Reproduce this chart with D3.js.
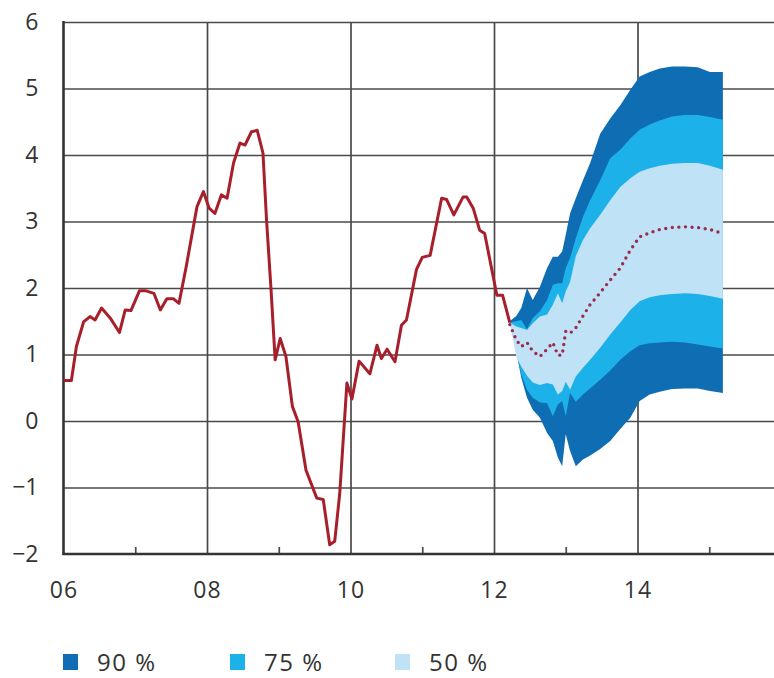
<!DOCTYPE html>
<html><head><meta charset="utf-8">
<script src="https://cdn.jsdelivr.net/npm/d3@7"></script>
<style>
html,body{margin:0;padding:0;background:#fff;}
svg text{font-family:"Open Sans",sans-serif;fill:#333;}
</style></head>
<body>
<svg id="chart" width="774" height="678"></svg>
<script>
// ---- data ----
const histDates = [2006.00,2006.11,2006.18,2006.28,2006.37,2006.44,2006.53,2006.65,2006.78,2006.86,2006.94,
  2007.06,2007.14,2007.26,2007.35,2007.44,2007.53,2007.61,2007.71,2007.86,2007.95,
  2008.03,2008.11,2008.20,2008.28,2008.37,2008.46,2008.53,2008.62,2008.70,2008.78,2008.83,2008.89,2008.95,
  2009.02,2009.10,2009.19,2009.27,2009.38,2009.53,2009.62,2009.71,2009.78,2009.85,2009.95,
  2010.02,2010.12,2010.27,2010.37,2010.43,2010.51,2010.62,2010.71,2010.78,2010.92,
  2011.00,2011.11,2011.27,2011.34,2011.44,2011.57,2011.62,2011.71,2011.80,2011.87,
  2012.04,2012.12,2012.22];
const histValues = [0.61,0.61,1.12,1.49,1.57,1.52,1.70,1.55,1.33,1.67,1.66,
  1.96,1.96,1.92,1.67,1.84,1.84,1.77,2.32,3.22,3.45,
  3.20,3.12,3.40,3.35,3.88,4.18,4.15,4.35,4.37,4.03,3.02,2.02,0.92,
  1.24,0.97,0.22,-0.01,-0.74,-1.16,-1.18,-1.86,-1.81,-1.09,0.57,
  0.33,0.90,0.71,1.14,0.94,1.08,0.89,1.44,1.52,2.28,
  2.46,2.49,3.35,3.33,3.10,3.37,3.37,3.20,2.87,2.82,
  1.89,1.89,1.48];

const fanDates = [2012.22,2012.31,2012.38,2012.46,2012.54,2012.64,2012.74,2012.82,2012.89,2012.95,2013.00,
  2013.06,2013.14,2013.24,2013.34,2013.48,2013.62,2013.76,2013.90,2014.03,2014.17,2014.31,2014.48,
  2014.66,2014.84,2015.01,2015.19];
const upper90 = [1.50,1.58,1.70,2.00,1.82,2.02,2.30,2.47,2.47,2.55,2.80,3.12,3.35,3.62,3.88,4.32,4.55,4.75,4.98,5.18,5.25,5.30,5.33,5.33,5.32,5.25,5.25];
const upper75 = [1.48,1.50,1.52,1.38,1.55,1.65,1.82,2.05,2.07,2.07,2.30,2.45,2.75,3.07,3.32,3.62,3.95,4.08,4.25,4.38,4.46,4.52,4.58,4.60,4.60,4.57,4.53];
const upper50 = [1.48,1.42,1.40,1.37,1.47,1.57,1.60,1.75,1.92,1.77,1.95,2.09,2.48,2.72,2.90,3.10,3.32,3.52,3.65,3.75,3.80,3.84,3.87,3.88,3.88,3.84,3.78];
const median  = [1.45,1.22,1.12,1.18,1.05,0.97,1.08,1.18,0.99,0.99,1.35,1.32,1.40,1.58,1.75,1.93,2.12,2.30,2.57,2.77,2.83,2.88,2.91,2.92,2.91,2.88,2.82];
const lower50 = [1.48,0.97,0.82,0.68,0.58,0.54,0.57,0.55,0.40,0.45,0.59,0.47,0.67,0.80,0.92,1.10,1.30,1.48,1.67,1.80,1.86,1.89,1.91,1.92,1.91,1.88,1.84];
const lower75 = [1.48,1.05,0.70,0.47,0.35,0.28,0.27,0.07,0.25,0.30,0.07,0.42,0.29,0.40,0.49,0.62,0.76,0.92,1.05,1.14,1.17,1.18,1.19,1.18,1.15,1.12,1.09];
const lower90 = [1.48,1.05,0.65,0.35,0.17,0.05,-0.18,-0.30,-0.55,-0.68,-0.20,-0.45,-0.68,-0.58,-0.52,-0.42,-0.30,-0.12,0.05,0.30,0.40,0.44,0.48,0.49,0.49,0.45,0.42];

const yTicks = [-2,-1,0,1,2,3,4,5,6];
const xLabelTicks = [2006,2008,2010,2012,2014];
const xGridTicks = [2008,2010,2012,2014,2016];
const xMinorTicks = [2007,2009,2011,2013,2015];
const legendLabels = ["90 %","75 %","50 %"];
const bandColors = ["#0f6db3","#1db1e9","#bfe2f6"];

// ---- drawing ----
const svg = d3.select("#chart");
const L = 63.5, R = 781, T = 22, B = 554;
const x = d3.scaleLinear().domain([2006,2016]).range([L,R]);
const y = d3.scaleLinear().domain([-2,6]).range([B,T]);

// horizontal grid
svg.append("g").attr("transform",`translate(${L},0)`)
  .call(d3.axisLeft(y).tickValues(yTicks.filter(v=>v>-2)).tickSize(-(R-L)).tickFormat(""))
  .call(g=>g.select(".domain").remove())
  .call(g=>g.selectAll("line").attr("stroke","#4a4a4a").attr("stroke-width",1.7));
// vertical grid
svg.append("g").attr("transform",`translate(0,${B})`)
  .call(d3.axisBottom(x).tickValues(xGridTicks).tickSize(-(B-T)).tickFormat(""))
  .call(g=>g.select(".domain").remove())
  .call(g=>g.selectAll("line").attr("stroke","#4a4a4a").attr("stroke-width",1.7));

// fan
const area = (lo,hi)=>d3.area().x((d,i)=>x(fanDates[i])).y0((d,i)=>y(lo[i])).y1((d,i)=>y(hi[i]));
[[lower90,upper90],[lower75,upper75],[lower50,upper50]].forEach((p,k)=>{
  svg.append("path").datum(fanDates).attr("d",area(p[0],p[1])).attr("fill",bandColors[k]);
});

// minor ticks
svg.append("g").attr("transform",`translate(0,${B})`)
  .call(d3.axisBottom(x).tickValues(xMinorTicks).tickSize(-7).tickFormat(""))
  .call(g=>g.select(".domain").remove())
  .call(g=>g.selectAll("line").attr("stroke","#4a4a4a").attr("stroke-width",1.7));

// axes lines
svg.append("line").attr("x1",L).attr("x2",L).attr("y1",T-1).attr("y2",B+1).attr("stroke","#333").attr("stroke-width",2.6);
svg.append("line").attr("x1",L-1).attr("x2",R).attr("y1",B).attr("y2",B).attr("stroke","#333").attr("stroke-width",2.6);

// y labels
svg.append("g").attr("transform",`translate(${L},0)`)
  .call(d3.axisLeft(y).tickValues(yTicks).tickSize(0).tickPadding(25).tickFormat(d3.format("d")))
  .call(g=>g.select(".domain").remove())
  .call(g=>g.selectAll("text").attr("font-size",23).attr("fill","#333").style("font-family","'Open Sans',sans-serif"));
// x labels
svg.append("g").attr("transform",`translate(0,${B})`)
  .call(d3.axisBottom(x).tickValues(xLabelTicks).tickSize(0).tickFormat(d=>String(d).slice(2)))
  .call(g=>g.select(".domain").remove())
  .call(g=>g.selectAll("text").attr("dy",null).attr("y",44).attr("font-size",23).attr("fill","#333")
    .style("font-family","'Open Sans',sans-serif").style("letter-spacing","1px"));

// historical line
svg.append("path").datum(histValues)
  .attr("d",d3.line().x((d,i)=>x(histDates[i])).y(d=>y(d)))
  .attr("fill","none").attr("stroke","#a81f2c").attr("stroke-width",3).attr("stroke-linejoin","round");

// median dotted
svg.append("path").datum(median)
  .attr("d",d3.line().x((d,i)=>x(fanDates[i])).y(d=>y(d)))
  .attr("fill","none").attr("stroke","#9a2c4c").attr("stroke-width",3.4)
  .attr("stroke-linecap","round").attr("stroke-dasharray","0,6.6");

// legend
const lx = [63,230,395];
legendLabels.forEach((t,i)=>{
  svg.append("rect").attr("x",lx[i]).attr("y",654).attr("width",15).attr("height",16).attr("fill",bandColors[i]);
  svg.append("text").attr("x",lx[i]+34).attr("y",671).attr("font-size",24).attr("fill","#333")
    .style("letter-spacing","1.5px").text(t);
});
</script>
</body></html>
